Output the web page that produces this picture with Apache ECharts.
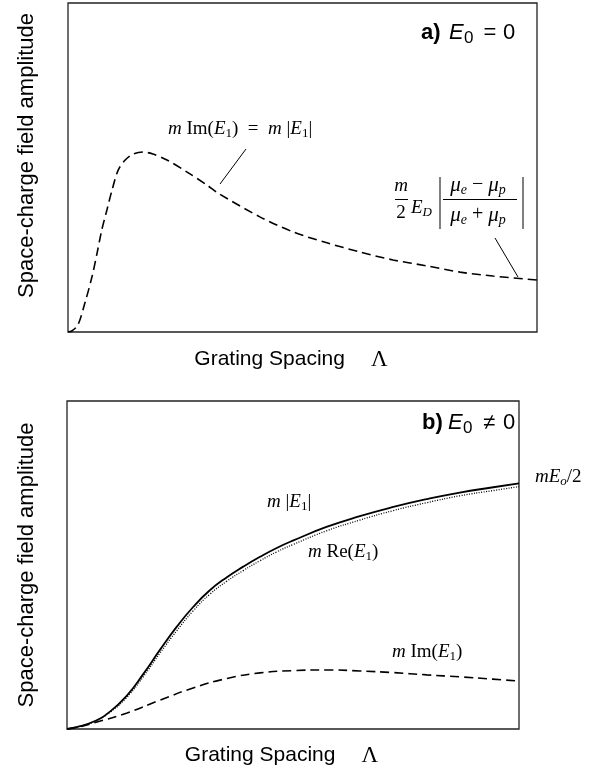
<!DOCTYPE html>
<html><head><meta charset="utf-8">
<script src="https://cdn.jsdelivr.net/npm/echarts@6/dist/echarts.min.js"></script>
<style>html,body{margin:0;padding:0;background:#fff}#c{width:604px;height:772px}</style>
</head><body><div id="c"></div>
<script>
// Panel a: E0 = 0 — m Im(E1) = m|E1| (dashed)
const aX  = [0, 0.8, 2.1, 3.6, 5.1, 6.2, 7.2, 8.3, 9.4, 10.7, 12.2, 13.9, 16.0, 18.1, 21.1, 25.4, 29.6, 32.0, 40.9, 48.0, 55.2, 62.3, 69.3, 76.5, 83.6, 90.6, 100];
const aIm = [0, 0.3, 2.1, 8.8, 16.7, 24.0, 31.0, 37.1, 43.2, 49.2, 52.3, 54.1, 54.7, 54.1, 52.3, 48.6, 44.7, 42.2, 35.0, 30.4, 27.1, 24.3, 21.9, 20.1, 18.2, 17.0, 15.8];

// Panel b: E0 != 0 — m|E1| (solid) and m Re(E1) (dotted)
const bX   = [0, 2.1, 5.8, 9.5, 13.2, 16.9, 20.6, 24.3, 27.9, 31.6, 35.3, 39.0, 42.7, 46.4, 50.1, 57.4, 64.8, 72.2, 79.6, 86.9, 94.3, 100];
const bAbs = [0, 0.6, 2.2, 5.3, 10.1, 16.8, 24.2, 31.2, 37.2, 42.3, 46.2, 49.5, 52.5, 55.2, 57.5, 61.6, 64.9, 67.7, 70.1, 72.1, 73.7, 74.9];
const bRe  = [0, 0.6, 2.1, 5.1, 9.6, 16.0, 23.2, 30.0, 36.0, 41.1, 45.0, 48.3, 51.3, 54.0, 56.3, 60.4, 63.7, 66.6, 69.0, 71.1, 72.7, 73.9];
// m Im(E1) (dashed)
const bImX = [0, 2.5, 5.8, 13.3, 20.6, 27.9, 35.4, 42.7, 50.0, 57.5, 64.8, 72.1, 79.6, 86.9, 94.2, 100];
const bIm  = [0, 0.6, 1.8, 4.9, 8.8, 12.5, 15.4, 17.1, 17.8, 18.0, 17.7, 17.2, 16.5, 15.9, 15.2, 14.6];

const xTitle = 'Grating Spacing';
const yTitle = 'Space-charge field amplitude';

const zip = (xs, ys) => xs.map((x, i) => [x, ys[i]]);
const SANS = '"Liberation Sans", Arial, Helvetica, sans-serif';
const SERIF = '"Liberation Serif", "Times New Roman", serif';

const serifRich = {
  r: {fontFamily: SERIF, fontSize: 19, lineHeight: 22, color: '#000'},
  i: {fontFamily: SERIF, fontSize: 19, fontStyle: 'italic', lineHeight: 22, color: '#000'},
  s: {fontFamily: SERIF, fontSize: 13, lineHeight: 13, padding: [10, 0, 0, 0], color: '#000'},
  si: {fontFamily: SERIF, fontSize: 13, fontStyle: 'italic', lineHeight: 13, padding: [10, 0, 0, 0], color: '#000'},
  mu: {fontFamily: SERIF, fontSize: 21, fontStyle: 'italic', lineHeight: 22, color: '#000'},
  ms: {fontFamily: SERIF, fontSize: 14, fontStyle: 'italic', lineHeight: 14, padding: [10, 0, 0, 0], color: '#000'},
  op: {fontFamily: SERIF, fontSize: 20, lineHeight: 22, color: '#000'}
};

function txt(x, y, text, rich, align) {
  return {type: 'text', x: x, y: y, silent: true,
    style: {text: text, rich: rich, align: align || 'left', verticalAlign: 'middle',
            textAlign: align || 'left', textVerticalAlign: 'middle', fill: '#000'}};
}
function stxt(x, y, text, size, extra, align) {
  return {type: 'text', x: x, y: y, silent: true,
    style: Object.assign({text: text, fontFamily: SANS, fontSize: size, fill: '#000',
            align: align || 'left', verticalAlign: 'middle', textAlign: align || 'left', textVerticalAlign: 'middle'}, extra || {})};
}
function ln(x1, y1, x2, y2, w) {
  return {type: 'line', silent: true, shape: {x1, y1, x2, y2}, style: {stroke: '#000', lineWidth: w || 1}};
}

const axisCommon = {
  type: 'value', min: 0, max: 100,
  axisLine: {show: false}, axisTick: {show: false}, axisLabel: {show: false}, splitLine: {show: false}
};
const xName = {
  name: '{t|' + xTitle + '}{g|Λ}', nameLocation: 'middle',
  nameTextStyle: {rich: {
    t: {fontFamily: SANS, fontSize: 21, color: '#000'},
    g: {fontFamily: SERIF, fontSize: 23, color: '#000', padding: [0, 0, 0, 26]}
  }, padding: [0, 23, 0, 0]}
};
const yNameStyle = {fontFamily: SANS, fontSize: 22, color: '#000'};

const chart = echarts.init(document.getElementById('c'), null, {renderer: 'canvas'});
chart.setOption({
  animation: false,
  backgroundColor: '#fff',
  grid: [
    {left: 68, top: 3, width: 469, height: 329, show: true, borderColor: '#222', borderWidth: 1.3, outerBoundsMode: 'none', containLabel: false},
    {left: 67, top: 401, width: 452, height: 328, show: true, borderColor: '#222', borderWidth: 1.3, outerBoundsMode: 'none', containLabel: false}
  ],
  xAxis: [
    Object.assign({}, axisCommon, xName, {gridIndex: 0, nameGap: 16}),
    Object.assign({}, axisCommon, xName, {gridIndex: 1, nameGap: 15})
  ],
  yAxis: [
    Object.assign({}, axisCommon, {gridIndex: 0, name: yTitle, nameLocation: 'middle', nameRotate: 90, nameGap: 30,
      nameTextStyle: Object.assign({padding: [0, 0, 0, 24]}, yNameStyle)}),
    Object.assign({}, axisCommon, {gridIndex: 1, name: yTitle, nameLocation: 'middle', nameRotate: 90, nameGap: 29,
      nameTextStyle: yNameStyle})
  ],
  series: [
    {type: 'line', xAxisIndex: 0, yAxisIndex: 0, data: zip(aX, aIm), showSymbol: false, smooth: 0.3, silent: true,
     lineStyle: {color: '#000', width: 1.6, type: [9, 5]}},
    {type: 'line', xAxisIndex: 1, yAxisIndex: 1, data: zip(bX, bAbs), showSymbol: false, smooth: 0.5, silent: true,
     lineStyle: {color: '#000', width: 1.8, type: 'solid'}},
    {type: 'line', xAxisIndex: 1, yAxisIndex: 1, data: zip(bX, bRe), showSymbol: false, smooth: 0.5, silent: true,
     lineStyle: {color: '#000', width: 1.3, type: [1, 1.5]}},
    {type: 'line', xAxisIndex: 1, yAxisIndex: 1, data: zip(bImX, bIm), showSymbol: false, smooth: 0.5, silent: true,
     lineStyle: {color: '#000', width: 1.6, type: [9, 5]}}
  ],
  graphic: [
    // panel a title: a) E0 = 0
    stxt(421, 32.5, 'a)', 22, {fontWeight: 'bold'}),
    stxt(449, 32.5, 'E', 22, {fontStyle: 'italic'}),
    stxt(464, 38, '0', 17),
    stxt(490, 32.5, '=', 22, null, 'center'),
    stxt(503, 32.5, '0', 22),
    // panel a curve label
    txt(168, 129, '{i|m}{r| Im(}{i|E}{s|1}{r|)  =  }{i|m}{r| |}{i|E}{s|1}{r||}', serifRich),
    ln(246, 149, 220, 184),
    // fraction label
    txt(401, 186, '{i|m}', serifRich, 'center'),
    ln(395, 199.5, 408, 199.5),
    txt(401, 213, '{r|2}', serifRich, 'center'),
    txt(411, 208, '{i|E}{si|D}', serifRich),
    ln(440, 177, 440, 229),
    txt(478, 185, '{mu|μ}{ms|e}{op| − }{mu|μ}{ms|p}', serifRich, 'center'),
    ln(443, 199.5, 517, 199.5),
    txt(478, 215, '{mu|μ}{ms|e}{op| + }{mu|μ}{ms|p}', serifRich, 'center'),
    ln(523, 177, 523, 229),
    ln(495, 238, 518, 277),
    // panel b title: b) E0 ≠ 0
    stxt(422, 423, 'b)', 22, {fontWeight: 'bold'}),
    stxt(448, 423, 'E', 22, {fontStyle: 'italic'}),
    stxt(463, 428.5, '0', 17),
    stxt(489, 423, '≠', 22, null, 'center'),
    stxt(503, 423, '0', 22),
    // panel b curve labels
    txt(267, 502, '{i|m}{r| |}{i|E}{s|1}{r||}', serifRich),
    txt(308, 552, '{i|m}{r| Re(}{i|E}{s|1}{r|)}', serifRich),
    txt(392, 652, '{i|m}{r| Im(}{i|E}{s|1}{r|)}', serifRich),
    txt(535, 477, '{i|mE}{si|o}{r|/2}', serifRich)
  ]
});
</script>
</body></html>
